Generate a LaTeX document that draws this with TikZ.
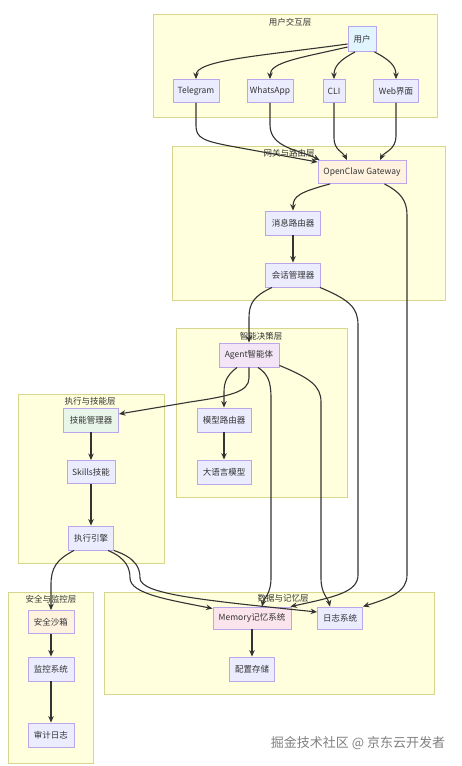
\documentclass[tikz,border=0pt]{standalone}
\usepackage{fontspec}
\setmainfont{Noto Sans CJK SC}
\usetikzlibrary{arrows.meta,calc}
\definecolor{clfill}{HTML}{FFFFDE}
\definecolor{cldraw}{HTML}{D6D68C}
\definecolor{nodefill}{HTML}{ECECFF}
\definecolor{nodedraw}{HTML}{B9A6EC}
\definecolor{txt}{HTML}{333333}
\definecolor{edgec}{HTML}{333333}
\definecolor{userfill}{HTML}{E1F5FE}
\definecolor{gwfill}{HTML}{FFF3E0}
\definecolor{agfill}{HTML}{F3E5F5}
\definecolor{skfill}{HTML}{E8F5E9}
\definecolor{memfill}{HTML}{FCE4EC}
\definecolor{sbfill}{HTML}{FFF3E0}
\definecolor{wm}{HTML}{808080}
\tikzset{
  cluster/.style={draw=cldraw, fill=clfill, line width=0.9pt},
  ctitle/.style={font=\fontsize{8.5}{10}\selectfont, text=txt, inner sep=0pt},
  box/.style={draw=nodedraw, fill=nodefill, line width=0.9pt, font=\fontsize{8.5}{10}\selectfont, text=txt, inner sep=0pt, minimum height=23pt},
  edge/.style={draw=edgec, line width=1.1pt, -{Stealth[length=6.5pt,width=5.5pt]}},
}
\begin{document}
\begin{tikzpicture}[x=1pt,y=-1pt]
\useasboundingbox[fill=white] (0,0) rectangle (462,766);
% clusters
\draw[cluster] (153,14) rectangle (437,117);
\node[ctitle] (t1) at (290,22) {用户交互层};
\draw[cluster] (172,146) rectangle (445,300);
\node[ctitle] (t2) at (289,153) {网关与路由层};
\draw[cluster] (176,328) rectangle (347,497);
\node[ctitle] (t3) at (261,336) {智能决策层};
\draw[cluster] (18,394) rectangle (164,563);
\node[ctitle] (t4) at (90,401) {执行与技能层};
\draw[cluster] (8,592) rectangle (93,763);
\node[ctitle] (t5) at (51,599) {安全与监控层};
\draw[cluster] (104,592) rectangle (434,694);
\node[ctitle] (t6) at (283,598) {数据与记忆层};

% nodes
\node[box, minimum width=28pt, minimum height=25pt, fill=userfill] (user) at (362,39) {用户};
\node[box, minimum width=46pt] (tg) at (196,91) {Telegram};
\node[box, minimum width=46pt] (wa) at (270,91) {WhatsApp};
\node[box, minimum width=22pt] (cli) at (334,91) {CLI};
\node[box, minimum width=45pt] (web) at (396,91) {Web界面};
\node[box, minimum width=88pt, fill=gwfill] (gw) at (362,172) {OpenClaw Gateway};
\node[box, minimum width=55pt, minimum height=24pt] (mr) at (293,223) {消息路由器};
\node[box, minimum width=55pt, minimum height=24pt] (sm) at (293,275) {会话管理器};
\node[box, minimum width=60pt, minimum height=24pt, fill=agfill] (agent) at (249,355) {Agent智能体};
\node[box, minimum width=54pt, minimum height=24pt] (modr) at (224,420) {模型路由器};
\node[box, minimum width=54pt, minimum height=24pt] (llm) at (224,472) {大语言模型};
\node[box, minimum width=55pt, minimum height=24pt, fill=skfill] (skm) at (91,420) {技能管理器};
\node[box, minimum width=48pt] (skills) at (91,472) {Skills技能};
\node[box, minimum width=45pt, minimum height=24pt] (exe) at (91,538) {执行引擎};
\node[box, minimum width=46pt, fill=sbfill] (sand) at (51,622) {安全沙箱};
\node[box, minimum width=46pt, minimum height=24pt] (mon) at (51,669) {监控系统};
\node[box, minimum width=46pt, minimum height=24pt] (audit) at (51,735) {审计日志};
\node[box, minimum width=78pt, minimum height=22pt, fill=memfill] (mem) at (252,618) {Memory记忆系统};
\node[box, minimum width=45pt, minimum height=22pt] (log) at (340,618) {日志系统};
\node[box, minimum width=45pt, minimum height=24pt] (cfg) at (252,669) {配置存储};

% edges
\begin{scope}[on background layer/.style={}]
\draw[edge] ([yshift=-5pt]user.west) .. controls (260,56) and (196,60) .. (tg.north);
\draw[edge] ([yshift=-8pt]user.west) .. controls (300,58) and (270,62) .. (wa.north);
\draw[edge] ([xshift=-7pt]user.south) .. controls (340,60) and (334,66) .. (cli.north);
\draw[edge] ([xshift=-2pt]user.south east) .. controls (390,60) and (396,66) .. (web.north);
\draw[edge] (tg.south) -- (196,126) .. controls (196,138) and (204,141) .. (230,146) -- ([yshift=-2pt]gw.north west);
\draw[edge] (wa.south) -- (270,125) .. controls (270,148) and (300,150) .. ([xshift=2pt]gw.north west);
\draw[edge] (cli.south) -- (334,138) .. controls (334,150) and (343,152) .. ([xshift=-15pt]gw.north);
\draw[edge] (web.south) -- (396,136) .. controls (396,150) and (384,152) .. ([xshift=18pt]gw.north);
\draw[edge] ([xshift=-32pt]gw.south) .. controls (300,192) and (293,196) .. (mr.north);
\draw[edge] (mr.south) -- (sm.north);
\draw[edge] ([xshift=-21pt]sm.south) .. controls (254,296) and (249,303) .. (249,318) -- (agent.north);
\draw[edge] ([xshift=-1pt]sm.south east) .. controls (350,300) and (358,308) .. (358,325) -- (358,575) .. controls (358,592) and (335,597) .. ([xshift=-1pt]mem.north east);
\draw[edge] ([xshift=-22pt]gw.south east) .. controls (400,192) and (407,200) .. (407,215) -- (407,575) .. controls (407,592) and (390,598) .. (log.north east);
\draw[edge] ([xshift=-12pt]agent.south) .. controls (227,375) and (224,382) .. (224,392) -- (modr.north);
\draw[edge] (modr.south) -- (llm.north);
\draw[edge] (agent.south) -- (249,378) .. controls (249,392) and (230,396) .. (190,402) -- ([yshift=6pt]skm.east);
\draw[edge] ([xshift=9pt]agent.south) .. controls (268,374) and (271,382) .. (271,398) -- (271,578) .. controls (271,594) and (264,598) .. ([xshift=10pt]mem.north);
\draw[edge] ([yshift=2pt]agent.south east) .. controls (310,378) and (321,386) .. (321,402) -- (321,578) .. controls (321,594) and (328,598) .. ([xshift=-10pt]log.north);
\draw[edge] (skm.south) -- (skills.north);
\draw[edge] (skills.south) -- (exe.north);
\draw[edge] ([xshift=-17pt]exe.south) .. controls (56,560) and (51,568) .. (51,585) -- (sand.north);
\draw[edge] ([xshift=17pt]exe.south) .. controls (126,558) and (130,568) .. (130,578) .. controls (130,594) and (170,600) .. ([yshift=-2pt]mem.north west);
\draw[edge] (exe.south east) .. controls (136,558) and (140,568) .. (140,578) .. controls (140,594) and (200,600) .. ([yshift=6pt]log.west);
\draw[edge] (sand.south) -- (mon.north);
\draw[edge] (mon.south) -- (audit.north);
\draw[edge] (mem.south) -- (cfg.north);
\end{scope}

% watermark
\node[font=\fontsize{13}{15}\selectfont, text=wm, inner sep=0pt] (wmk) at (358,743) {掘金技术社区 @ 京东云开发者};
\end{tikzpicture}
\end{document}
